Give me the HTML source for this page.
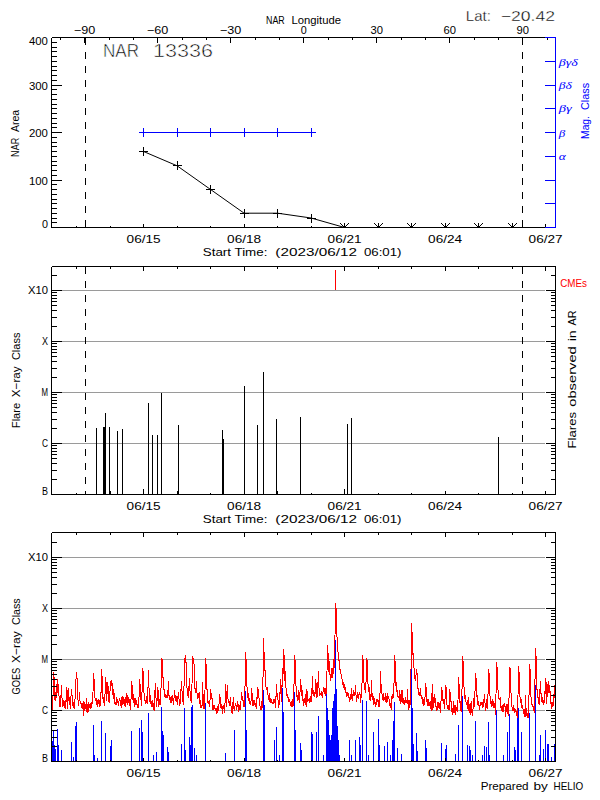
<!DOCTYPE html><html><head><meta charset="utf-8"><style>html,body{margin:0;padding:0;background:#fff;width:600px;height:800px;overflow:hidden}svg{display:block}</style></head><body><svg width="600" height="800" viewBox="0 0 600 800" font-family="Liberation Sans, sans-serif">
<rect width="600" height="800" fill="#fff"/>
<defs><clipPath id="c3"><rect x="51" y="532" width="505" height="230"/></clipPath><clipPath id="c1"><rect x="51" y="37" width="505" height="191"/></clipPath></defs>
<path d="M62,443.5H545" stroke="#9a9a9a" stroke-width="1" shape-rendering="crispEdges"/>
<path d="M62,392.5H545" stroke="#9a9a9a" stroke-width="1" shape-rendering="crispEdges"/>
<path d="M62,341.5H545" stroke="#9a9a9a" stroke-width="1" shape-rendering="crispEdges"/>
<path d="M62,290.5H545" stroke="#9a9a9a" stroke-width="1" shape-rendering="crispEdges"/>
<path d="M62,710.5H545" stroke="#9a9a9a" stroke-width="1" shape-rendering="crispEdges"/>
<path d="M62,659.5H545" stroke="#9a9a9a" stroke-width="1" shape-rendering="crispEdges"/>
<path d="M62,608.5H545" stroke="#9a9a9a" stroke-width="1" shape-rendering="crispEdges"/>
<path d="M62,557.5H545" stroke="#9a9a9a" stroke-width="1" shape-rendering="crispEdges"/>
<g clip-path="url(#c3)" fill="none" stroke-width="1" stroke-linejoin="miter" shape-rendering="crispEdges">
<path d="M52.5,762V741M53.5,762V731M54.5,762V745M55.5,762V749M57.5,762V729M58.5,762V745M61.5,762V750M71.5,762V742M73.5,762V757M75.5,762V726M76.5,762V722M93.5,762V725M94.5,762V755M97.5,762V758M101.5,762V721M105.5,762V733M110.5,762V746M111.5,762V740M131.5,762V731M139.5,762V728M141.5,762V720M142.5,762V732M148.5,762V713M153.5,762V755M156.5,762V752M161.5,762V707M162.5,762V731M163.5,762V735M167.5,762V747M168.5,762V752M181.5,762V744M184.5,762V708M185.5,762V750M189.5,762V737M190.5,762V745M191.5,762V707M192.5,762V705M194.5,762V748M196.5,762V755M205.5,762V703M225.5,762V753M234.5,762V730M245.5,762V691M246.5,762V730M263.5,762V690M264.5,762V705M274.5,762V740M276.5,762V727M279.5,762V755M282.5,762V688M283.5,762V712M294.5,762V692M295.5,762V730M300.5,762V743M301.5,762V750M311.5,762V732M312.5,762V734M316.5,762V732M318.5,762V716M323.5,762V755M326.5,762V689M327.5,762V708M328.5,762V720M329.5,762V735M330.5,762V740M331.5,762V735M332.5,762V708M333.5,762V701M334.5,762V694M335.5,762V640M336.5,762V689M337.5,762V726M338.5,762V740M339.5,762V755M349.5,762V740M351.5,762V755M355.5,762V740M359.5,762V737M360.5,762V745M362.5,762V700M366.5,762V701M368.5,762V755M373.5,762V732M378.5,762V719M379.5,762V745M384.5,762V746M387.5,762V742M390.5,762V755M392.5,762V740M393.5,762V721M394.5,762V702M397.5,762V748M401.5,762V754M411.5,762V663M412.5,762V708M413.5,762V744M416.5,762V733M417.5,762V751M425.5,762V740M426.5,762V748M441.5,762V743M445.5,762V749M446.5,762V745M455.5,762V754M458.5,762V725M462.5,762V696M467.5,762V745M469.5,762V746M470.5,762V750M472.5,762V755M475.5,762V721M482.5,762V755M484.5,762V746M486.5,762V747M488.5,762V722M489.5,762V755M496.5,762V710M503.5,762V755M507.5,762V732M509.5,762V714M514.5,762V747M515.5,762V750M517.5,762V708M518.5,762V708M521.5,762V732M529.5,762V713M535.5,762V685M539.5,762V755M540.5,762V735M543.5,762V749M545.5,762V730M547.5,762V744M548.5,762V744M551.5,762V757M554.5,762V744" stroke="#0000ff"/>
<polyline points="51.5,711.9 51.5,707.1 51.5,706.1 51.5,707.9 52.5,709.6 52.5,707.3 52.5,706.1 52.5,707.6 53.5,683.8 53.5,683.9 53.5,673.9 53.5,672.5 54.5,682.0 54.5,692.1 54.5,692.1 54.5,697.7 55.5,701.1 55.5,700.9 55.5,698.7 55.5,700.9 56.5,684.0 56.5,685.3 56.5,695.0 56.5,697.9 57.5,687.6 57.5,687.5 57.5,678.8 57.5,679.6 58.5,688.8 58.5,690.2 58.5,691.9 58.5,693.3 59.5,698.1 59.5,698.8 59.5,699.7 59.5,706.4 60.5,705.8 60.5,704.7 60.5,707.4 60.5,705.6 61.5,685.4 61.5,686.2 61.5,697.2 61.5,697.3 62.5,698.8 62.5,697.6 62.5,699.6 62.5,706.5 63.5,704.9 63.5,705.1 63.5,699.8 63.5,701.5 64.5,704.9 64.5,701.2 64.5,702.7 64.5,707.0 65.5,708.1 65.5,700.1 65.5,706.5 65.5,708.6 66.5,695.3 66.5,696.4 66.5,687.2 66.5,686.9 67.5,693.5 67.5,702.4 67.5,706.3 67.5,709.1 68.5,688.4 68.5,688.5 68.5,698.9 68.5,700.1 69.5,699.8 69.5,696.9 69.5,701.1 69.5,700.7 70.5,709.4 70.5,706.7 70.5,704.1 70.5,700.7 71.5,690.4 71.5,695.7 71.5,688.5 71.5,691.3 72.5,698.8 72.5,700.2 72.5,705.8 72.5,701.9 73.5,702.7 73.5,704.0 73.5,702.0 73.5,707.5 74.5,706.5 74.5,706.5 74.5,709.3 74.5,708.8 75.5,688.9 75.5,688.2 75.5,680.5 75.5,681.7 76.5,675.8 76.5,678.7 76.5,671.6 76.5,671.7 77.5,684.8 77.5,692.0 77.5,698.5 77.5,698.3 78.5,701.8 78.5,705.3 78.5,701.8 78.5,705.8 79.5,696.2 79.5,692.0 79.5,698.0 79.5,697.9 80.5,704.4 80.5,701.6 80.5,703.4 80.5,702.9 81.5,704.9 81.5,704.2 81.5,702.9 81.5,707.9 82.5,708.5 82.5,704.8 82.5,702.6 82.5,705.5 83.5,705.8 83.5,701.1 83.5,710.1 83.5,715.6 84.5,707.2 84.5,704.9 84.5,702.3 84.5,710.5 85.5,707.4 85.5,707.5 85.5,707.4 85.5,705.5 86.5,703.2 86.5,697.8 86.5,709.6 86.5,711.1 87.5,712.4 87.5,704.1 87.5,704.6 87.5,705.0 88.5,704.6 88.5,711.7 88.5,705.2 88.5,701.8 89.5,706.3 89.5,707.7 89.5,707.8 89.5,705.4 90.5,705.1 90.5,703.4 90.5,708.6 90.5,709.4 91.5,707.0 91.5,705.8 91.5,707.9 91.5,702.5 92.5,703.5 92.5,702.5 92.5,703.0 92.5,699.5 93.5,684.2 93.5,684.6 93.5,673.4 93.5,673.3 94.5,684.5 94.5,691.4 94.5,694.2 94.5,696.5 95.5,699.5 95.5,699.7 95.5,701.1 95.5,699.3 96.5,698.9 96.5,701.8 96.5,704.7 96.5,702.0 97.5,706.5 97.5,701.4 97.5,699.8 97.5,702.2 98.5,701.6 98.5,698.6 98.5,701.9 98.5,703.0 99.5,701.2 99.5,704.9 99.5,703.1 99.5,706.6 100.5,702.6 100.5,705.9 100.5,704.6 100.5,704.0 101.5,681.5 101.5,681.1 101.5,668.9 101.5,669.1 102.5,682.6 102.5,691.4 102.5,696.3 102.5,697.8 103.5,699.4 103.5,696.9 103.5,698.2 103.5,700.6 104.5,705.9 104.5,703.0 104.5,700.7 104.5,702.2 105.5,685.4 105.5,684.5 105.5,677.4 105.5,679.1 106.5,685.5 106.5,691.8 106.5,700.5 106.5,697.0 107.5,691.9 107.5,693.3 107.5,683.4 107.5,681.9 108.5,689.4 108.5,692.2 108.5,693.9 108.5,701.5 109.5,700.1 109.5,698.9 109.5,703.0 109.5,700.1 110.5,681.5 110.5,681.0 110.5,687.1 110.5,688.5 111.5,683.3 111.5,685.4 111.5,680.3 111.5,680.4 112.5,685.7 112.5,691.2 112.5,692.9 112.5,692.9 113.5,697.1 113.5,698.8 113.5,688.5 113.5,691.1 114.5,695.4 114.5,698.7 114.5,700.9 114.5,703.1 115.5,702.3 115.5,701.5 115.5,704.0 115.5,704.8 116.5,702.6 116.5,697.4 116.5,700.0 116.5,704.8 117.5,701.9 117.5,699.4 117.5,700.4 117.5,701.0 118.5,703.5 118.5,702.6 118.5,706.3 118.5,703.0 119.5,699.0 119.5,700.7 119.5,698.2 119.5,699.1 120.5,701.3 120.5,706.3 120.5,701.2 120.5,701.6 121.5,708.3 121.5,700.1 121.5,698.6 121.5,697.4 122.5,696.7 122.5,701.5 122.5,702.3 122.5,705.2 123.5,700.9 123.5,703.4 123.5,697.3 123.5,703.6 124.5,701.2 124.5,698.5 124.5,701.2 124.5,703.7 125.5,707.1 125.5,701.2 125.5,699.7 125.5,697.3 126.5,702.8 126.5,693.0 126.5,697.7 126.5,699.2 127.5,700.8 127.5,704.3 127.5,704.8 127.5,694.6 128.5,699.7 128.5,701.4 128.5,702.5 128.5,702.2 129.5,699.6 129.5,704.8 129.5,703.4 129.5,705.5 130.5,704.9 130.5,706.4 130.5,709.8 130.5,707.6 131.5,691.4 131.5,687.6 131.5,680.8 131.5,680.7 132.5,689.2 132.5,695.8 132.5,695.5 132.5,697.4 133.5,703.1 133.5,699.6 133.5,702.3 133.5,694.3 134.5,702.5 134.5,704.5 134.5,703.9 134.5,707.2 135.5,703.3 135.5,699.8 135.5,697.8 135.5,700.7 136.5,703.6 136.5,700.3 136.5,699.5 136.5,703.6 137.5,706.1 137.5,707.9 137.5,705.5 137.5,705.5 138.5,703.1 138.5,701.4 138.5,707.5 138.5,704.8 139.5,689.3 139.5,690.3 139.5,680.8 139.5,679.4 140.5,687.5 140.5,693.2 140.5,697.6 140.5,698.7 141.5,701.7 141.5,700.8 141.5,705.1 141.5,705.7 142.5,678.8 142.5,677.7 142.5,667.6 142.5,667.6 143.5,674.9 143.5,681.9 143.5,686.6 143.5,690.1 144.5,695.5 144.5,699.1 144.5,698.0 144.5,700.6 145.5,700.0 145.5,699.8 145.5,702.3 145.5,704.0 146.5,696.7 146.5,695.8 146.5,703.4 146.5,700.4 147.5,701.8 147.5,704.4 147.5,703.1 147.5,704.0 148.5,670.0 148.5,669.8 148.5,678.8 148.5,685.4 149.5,690.6 149.5,694.5 149.5,700.8 149.5,701.3 150.5,699.7 150.5,695.1 150.5,698.7 150.5,702.1 151.5,704.8 151.5,706.9 151.5,703.6 151.5,701.6 152.5,703.4 152.5,703.2 152.5,700.4 152.5,706.3 153.5,705.6 153.5,705.7 153.5,703.0 153.5,708.6 154.5,711.4 154.5,689.6 154.5,695.2 154.5,697.7 155.5,683.3 155.5,684.1 155.5,690.5 155.5,696.0 156.5,699.8 156.5,705.7 156.5,702.5 156.5,707.3 157.5,694.9 157.5,692.4 157.5,688.5 157.5,686.9 158.5,693.4 158.5,696.9 158.5,702.6 158.5,706.7 159.5,703.6 159.5,698.7 159.5,700.4 159.5,703.1 160.5,704.1 160.5,700.4 160.5,699.3 160.5,704.9 161.5,672.1 161.5,670.6 161.5,671.5 161.5,658.6 162.5,659.4 162.5,665.8 162.5,671.1 162.5,676.4 163.5,678.7 163.5,682.6 163.5,684.4 163.5,689.1 164.5,689.2 164.5,692.4 164.5,693.3 164.5,696.0 165.5,695.7 165.5,694.3 165.5,696.0 165.5,696.9 166.5,695.9 166.5,697.4 166.5,696.4 166.5,697.2 167.5,695.8 167.5,698.4 167.5,698.1 167.5,698.0 168.5,681.5 168.5,682.5 168.5,686.0 168.5,694.4 169.5,696.5 169.5,696.0 169.5,698.8 169.5,699.6 170.5,697.0 170.5,702.5 170.5,699.8 170.5,700.3 171.5,696.1 171.5,703.1 171.5,700.1 171.5,700.8 172.5,700.4 172.5,699.4 172.5,695.2 172.5,697.9 173.5,698.6 173.5,704.2 173.5,700.7 173.5,704.9 174.5,691.0 174.5,689.7 174.5,690.9 174.5,693.1 175.5,696.4 175.5,696.5 175.5,699.5 175.5,700.1 176.5,700.9 176.5,698.9 176.5,696.4 176.5,700.9 177.5,703.8 177.5,695.9 177.5,705.1 177.5,703.3 178.5,691.8 178.5,691.8 178.5,698.2 178.5,698.3 179.5,699.7 179.5,703.3 179.5,703.3 179.5,705.8 180.5,702.3 180.5,696.7 180.5,695.9 180.5,697.3 181.5,680.8 181.5,681.3 181.5,689.4 181.5,687.9 182.5,693.5 182.5,696.9 182.5,701.6 182.5,700.8 183.5,700.6 183.5,702.9 183.5,704.9 183.5,703.1 184.5,670.2 184.5,670.8 184.5,657.6 184.5,657.9 185.5,658.5 185.5,662.6 185.5,655.2 185.5,656.0 186.5,667.8 186.5,676.7 186.5,680.1 186.5,687.4 187.5,689.2 187.5,693.5 187.5,694.9 187.5,693.5 188.5,698.4 188.5,694.8 188.5,692.7 188.5,694.0 189.5,678.4 189.5,679.4 189.5,686.0 189.5,686.8 190.5,694.1 190.5,696.2 190.5,696.5 190.5,699.5 191.5,702.8 191.5,700.8 191.5,693.3 191.5,699.3 192.5,668.9 192.5,669.3 192.5,656.7 192.5,656.5 193.5,659.4 193.5,663.6 193.5,658.0 193.5,659.2 194.5,669.4 194.5,676.1 194.5,682.3 194.5,686.5 195.5,691.9 195.5,691.8 195.5,693.2 195.5,693.4 196.5,682.3 196.5,681.0 196.5,686.9 196.5,692.2 197.5,694.0 197.5,695.1 197.5,698.6 197.5,696.9 198.5,698.0 198.5,698.2 198.5,697.9 198.5,694.2 199.5,692.8 199.5,697.6 199.5,698.6 199.5,701.0 200.5,707.4 200.5,700.1 200.5,701.5 200.5,707.7 201.5,707.6 201.5,705.3 201.5,706.3 201.5,706.9 202.5,705.4 202.5,703.0 202.5,682.2 202.5,691.1 203.5,696.7 203.5,704.6 203.5,708.7 203.5,706.9 204.5,708.0 204.5,706.7 204.5,709.0 204.5,709.4 205.5,671.2 205.5,672.2 205.5,658.6 205.5,658.0 206.5,670.0 206.5,680.3 206.5,686.4 206.5,688.4 207.5,690.6 207.5,696.8 207.5,698.8 207.5,702.6 208.5,702.2 208.5,704.0 208.5,704.2 208.5,702.2 209.5,703.2 209.5,703.9 209.5,707.4 209.5,703.0 210.5,696.6 210.5,699.0 210.5,691.4 210.5,689.5 211.5,697.9 211.5,693.0 211.5,699.3 211.5,699.0 212.5,698.2 212.5,702.3 212.5,706.1 212.5,709.1 213.5,709.1 213.5,704.8 213.5,704.7 213.5,705.7 214.5,707.7 214.5,707.3 214.5,705.4 214.5,708.4 215.5,708.9 215.5,707.8 215.5,710.5 215.5,709.9 216.5,708.8 216.5,711.2 216.5,712.2 216.5,713.3 217.5,712.4 217.5,709.5 217.5,706.1 217.5,707.6 218.5,708.7 218.5,710.6 218.5,708.4 218.5,709.4 219.5,698.7 219.5,700.0 219.5,693.5 219.5,694.0 220.5,700.9 220.5,703.7 220.5,707.7 220.5,705.4 221.5,707.0 221.5,709.4 221.5,708.0 221.5,705.3 222.5,706.9 222.5,714.1 222.5,706.9 222.5,706.7 223.5,705.8 223.5,709.4 223.5,707.7 223.5,706.0 224.5,706.1 224.5,712.5 224.5,711.6 224.5,711.6 225.5,695.3 225.5,694.6 225.5,684.2 225.5,684.9 226.5,696.7 226.5,704.0 226.5,703.4 226.5,707.1 227.5,686.7 227.5,684.9 227.5,691.3 227.5,694.9 228.5,702.9 228.5,699.8 228.5,703.2 228.5,701.9 229.5,704.3 229.5,702.4 229.5,704.7 229.5,705.6 230.5,696.9 230.5,702.9 230.5,704.4 230.5,703.3 231.5,708.4 231.5,707.1 231.5,710.0 231.5,711.6 232.5,713.3 232.5,704.3 232.5,704.1 232.5,706.8 233.5,697.0 233.5,708.4 233.5,707.7 233.5,709.3 234.5,706.1 234.5,710.9 234.5,708.3 234.5,707.9 235.5,703.5 235.5,704.5 235.5,706.3 235.5,705.7 236.5,705.5 236.5,705.1 236.5,706.3 236.5,709.9 237.5,704.6 237.5,701.1 237.5,700.6 237.5,706.9 238.5,704.3 238.5,709.1 238.5,707.2 238.5,711.9 239.5,704.8 239.5,709.9 239.5,707.3 239.5,709.1 240.5,704.9 240.5,708.6 240.5,707.4 240.5,710.1 241.5,691.9 241.5,693.9 241.5,698.2 241.5,699.4 242.5,700.4 242.5,700.8 242.5,696.2 242.5,699.5 243.5,700.5 243.5,700.8 243.5,707.2 243.5,706.2 244.5,705.9 244.5,702.2 244.5,702.5 244.5,707.3 245.5,666.1 245.5,665.9 245.5,651.9 245.5,652.1 246.5,664.9 246.5,673.5 246.5,679.7 246.5,684.9 247.5,689.5 247.5,692.5 247.5,696.1 247.5,697.9 248.5,693.0 248.5,696.5 248.5,695.4 248.5,698.4 249.5,704.2 249.5,701.8 249.5,698.0 249.5,699.9 250.5,703.3 250.5,704.8 250.5,702.3 250.5,705.2 251.5,696.6 251.5,695.0 251.5,687.9 251.5,688.9 252.5,696.7 252.5,698.7 252.5,705.0 252.5,705.3 253.5,705.5 253.5,699.5 253.5,705.2 253.5,702.8 254.5,704.4 254.5,701.3 254.5,699.5 254.5,703.7 255.5,703.9 255.5,707.3 255.5,707.0 255.5,703.7 256.5,708.4 256.5,708.6 256.5,706.4 256.5,706.7 257.5,687.3 257.5,691.8 257.5,696.1 257.5,698.8 258.5,689.4 258.5,693.7 258.5,693.2 258.5,693.4 259.5,702.0 259.5,705.3 259.5,698.2 259.5,705.7 260.5,706.9 260.5,707.4 260.5,708.4 260.5,709.0 261.5,709.8 261.5,709.1 261.5,705.3 261.5,700.7 262.5,708.3 262.5,704.7 262.5,703.3 262.5,703.1 263.5,651.7 263.5,652.0 263.5,637.7 263.5,648.1 264.5,656.1 264.5,662.6 264.5,663.1 264.5,666.7 265.5,674.1 265.5,678.4 265.5,683.3 265.5,685.0 266.5,688.9 266.5,688.6 266.5,689.6 266.5,688.1 267.5,690.9 267.5,686.6 267.5,689.0 267.5,690.6 268.5,698.4 268.5,699.8 268.5,699.0 268.5,698.6 269.5,701.3 269.5,698.1 269.5,692.5 269.5,700.4 270.5,703.3 270.5,701.5 270.5,698.3 270.5,698.1 271.5,700.2 271.5,699.9 271.5,701.3 271.5,702.1 272.5,703.1 272.5,704.4 272.5,702.3 272.5,703.2 273.5,702.2 273.5,704.2 273.5,699.1 273.5,701.5 274.5,702.7 274.5,698.6 274.5,701.6 274.5,702.2 275.5,702.7 275.5,708.3 275.5,702.6 275.5,707.4 276.5,683.8 276.5,683.6 276.5,690.5 276.5,696.7 277.5,693.5 277.5,697.3 277.5,695.2 277.5,699.6 278.5,700.3 278.5,701.3 278.5,704.9 278.5,707.5 279.5,702.4 279.5,701.7 279.5,702.9 279.5,704.9 280.5,679.0 280.5,680.3 280.5,685.7 280.5,690.6 281.5,696.6 281.5,699.0 281.5,700.1 281.5,701.6 282.5,668.1 282.5,668.7 282.5,680.3 282.5,687.3 283.5,661.2 283.5,661.5 283.5,649.0 283.5,649.7 284.5,659.2 284.5,669.1 284.5,675.9 284.5,680.5 285.5,671.2 285.5,672.4 285.5,679.2 285.5,685.2 286.5,690.8 286.5,693.6 286.5,692.1 286.5,695.2 287.5,695.7 287.5,693.8 287.5,694.1 287.5,697.5 288.5,699.0 288.5,701.5 288.5,696.8 288.5,701.4 289.5,700.8 289.5,700.7 289.5,701.3 289.5,698.8 290.5,705.0 290.5,705.8 290.5,703.2 290.5,703.5 291.5,700.8 291.5,706.9 291.5,702.3 291.5,706.0 292.5,705.5 292.5,699.1 292.5,700.9 292.5,707.3 293.5,703.2 293.5,705.6 293.5,701.8 293.5,701.9 294.5,667.8 294.5,668.3 294.5,655.0 294.5,655.6 295.5,664.3 295.5,671.0 295.5,678.3 295.5,684.3 296.5,687.1 296.5,688.7 296.5,691.4 296.5,696.1 297.5,696.4 297.5,696.1 297.5,695.4 297.5,700.1 298.5,698.7 298.5,695.9 298.5,694.2 298.5,690.1 299.5,699.2 299.5,700.9 299.5,702.5 299.5,696.8 300.5,687.9 300.5,682.9 300.5,679.1 300.5,681.0 301.5,688.2 301.5,687.3 301.5,692.7 301.5,695.6 302.5,690.1 302.5,693.9 302.5,698.9 302.5,699.3 303.5,703.5 303.5,705.6 303.5,701.1 303.5,698.6 304.5,702.7 304.5,699.5 304.5,700.6 304.5,701.6 305.5,694.4 305.5,699.2 305.5,704.5 305.5,702.7 306.5,702.8 306.5,697.5 306.5,707.0 306.5,689.2 307.5,693.8 307.5,701.6 307.5,699.2 307.5,701.0 308.5,699.6 308.5,700.6 308.5,701.0 308.5,700.5 309.5,697.8 309.5,699.3 309.5,698.6 309.5,703.1 310.5,695.9 310.5,701.8 310.5,697.9 310.5,698.6 311.5,701.6 311.5,700.5 311.5,698.7 311.5,700.9 312.5,676.0 312.5,677.4 312.5,683.7 312.5,691.1 313.5,696.2 313.5,695.0 313.5,692.9 313.5,690.1 314.5,693.3 314.5,696.6 314.5,695.7 314.5,697.0 315.5,690.3 315.5,685.9 315.5,678.6 315.5,682.0 316.5,683.7 316.5,687.9 316.5,692.5 316.5,697.4 317.5,695.7 317.5,696.3 317.5,693.9 317.5,692.4 318.5,671.2 318.5,671.8 318.5,682.5 318.5,686.0 319.5,690.7 319.5,694.3 319.5,695.8 319.5,694.0 320.5,693.2 320.5,693.2 320.5,694.5 320.5,694.4 321.5,693.6 321.5,692.7 321.5,691.3 321.5,695.1 322.5,696.6 322.5,696.3 322.5,694.9 322.5,697.0 323.5,687.1 323.5,691.9 323.5,686.9 323.5,688.2 324.5,692.0 324.5,692.3 324.5,687.8 324.5,693.5 325.5,695.1 325.5,695.6 325.5,696.2 325.5,688.4 326.5,694.4 326.5,691.4 326.5,689.4 326.5,685.9 327.5,655.9 327.5,656.5 327.5,644.6 327.5,648.8 328.5,656.9 328.5,663.1 328.5,669.0 328.5,672.1 329.5,662.1 329.5,661.0 329.5,668.0 329.5,672.3 330.5,677.5 330.5,678.5 330.5,678.6 330.5,680.6 331.5,668.3 331.5,668.9 331.5,671.9 331.5,678.3 332.5,675.7 332.5,672.4 332.5,677.2 332.5,677.9 333.5,659.5 333.5,659.3 333.5,663.7 333.5,673.6 334.5,662.7 334.5,664.3 334.5,655.9 334.5,654.2 335.5,616.7 335.5,617.4 335.5,603.6 335.5,603.5 336.5,612.8 336.5,621.9 336.5,627.1 336.5,634.4 337.5,639.0 337.5,644.2 337.5,646.6 337.5,649.2 338.5,653.9 338.5,655.1 338.5,657.8 338.5,659.3 339.5,661.7 339.5,663.6 339.5,665.6 339.5,668.9 340.5,669.7 340.5,670.6 340.5,670.9 340.5,672.4 341.5,675.7 341.5,676.8 341.5,677.5 341.5,677.1 342.5,680.5 342.5,684.1 342.5,684.5 342.5,684.9 343.5,682.4 343.5,683.5 343.5,688.1 343.5,686.1 344.5,683.9 344.5,685.9 344.5,690.4 344.5,686.6 345.5,687.5 345.5,692.0 345.5,686.6 345.5,689.7 346.5,696.5 346.5,693.6 346.5,693.6 346.5,692.1 347.5,692.1 347.5,695.8 347.5,693.7 347.5,692.2 348.5,694.3 348.5,695.1 348.5,698.4 348.5,697.0 349.5,697.7 349.5,696.7 349.5,697.5 349.5,701.8 350.5,696.6 350.5,698.4 350.5,697.9 350.5,699.9 351.5,688.5 351.5,692.2 351.5,689.3 351.5,698.1 352.5,700.3 352.5,697.9 352.5,700.8 352.5,699.1 353.5,690.1 353.5,693.7 353.5,695.7 353.5,694.9 354.5,694.7 354.5,692.2 354.5,695.6 354.5,692.1 355.5,691.8 355.5,684.9 355.5,689.7 355.5,692.4 356.5,697.3 356.5,698.9 356.5,702.1 356.5,699.6 357.5,693.4 357.5,692.4 357.5,696.0 357.5,698.0 358.5,695.3 358.5,694.5 358.5,699.1 358.5,694.2 359.5,694.2 359.5,694.4 359.5,694.0 359.5,693.5 360.5,695.3 360.5,698.4 360.5,702.7 360.5,696.5 361.5,694.7 361.5,692.1 361.5,693.3 361.5,697.7 362.5,668.5 362.5,667.2 362.5,655.4 362.5,655.2 363.5,662.6 363.5,671.0 363.5,677.1 363.5,680.4 364.5,684.8 364.5,685.2 364.5,684.2 364.5,688.6 365.5,686.8 365.5,692.2 365.5,692.0 365.5,693.3 366.5,671.0 366.5,670.2 366.5,669.3 366.5,658.3 367.5,661.3 367.5,671.0 367.5,679.6 367.5,682.7 368.5,684.8 368.5,687.3 368.5,690.2 368.5,691.5 369.5,688.6 369.5,687.0 369.5,690.8 369.5,698.9 370.5,699.6 370.5,700.5 370.5,693.9 370.5,699.3 371.5,694.2 371.5,679.7 371.5,689.5 371.5,690.8 372.5,695.9 372.5,694.2 372.5,693.7 372.5,699.0 373.5,699.2 373.5,695.9 373.5,704.8 373.5,698.7 374.5,700.1 374.5,697.6 374.5,700.2 374.5,701.5 375.5,707.0 375.5,707.0 375.5,705.2 375.5,702.5 376.5,705.1 376.5,701.6 376.5,700.3 376.5,699.6 377.5,698.9 377.5,698.6 377.5,702.4 377.5,700.4 378.5,701.0 378.5,700.0 378.5,706.6 378.5,705.1 379.5,705.9 379.5,705.8 379.5,704.4 379.5,704.4 380.5,681.3 380.5,670.8 380.5,673.0 380.5,680.7 381.5,687.2 381.5,690.1 381.5,692.6 381.5,692.9 382.5,694.5 382.5,696.8 382.5,697.7 382.5,698.2 383.5,701.4 383.5,695.5 383.5,692.9 383.5,693.6 384.5,699.5 384.5,699.5 384.5,697.4 384.5,699.3 385.5,699.7 385.5,701.8 385.5,695.6 385.5,693.3 386.5,699.1 386.5,699.9 386.5,702.9 386.5,699.6 387.5,700.6 387.5,702.3 387.5,698.5 387.5,692.8 388.5,698.3 388.5,696.2 388.5,699.2 388.5,697.5 389.5,701.2 389.5,704.5 389.5,699.1 389.5,704.9 390.5,707.5 390.5,704.1 390.5,702.6 390.5,706.9 391.5,708.6 391.5,703.2 391.5,703.8 391.5,697.3 392.5,695.6 392.5,694.7 392.5,693.8 392.5,698.5 393.5,689.6 393.5,694.6 393.5,693.7 393.5,698.0 394.5,668.2 394.5,667.3 394.5,654.5 394.5,655.2 395.5,665.8 395.5,673.2 395.5,681.5 395.5,684.6 396.5,688.1 396.5,682.4 396.5,687.9 396.5,690.5 397.5,693.2 397.5,690.2 397.5,691.5 397.5,696.1 398.5,697.5 398.5,696.4 398.5,697.3 398.5,696.1 399.5,700.2 399.5,700.5 399.5,689.8 399.5,692.5 400.5,699.0 400.5,694.4 400.5,693.9 400.5,703.6 401.5,700.3 401.5,697.1 401.5,698.6 401.5,690.3 402.5,690.9 402.5,694.1 402.5,702.7 402.5,700.5 403.5,699.6 403.5,703.5 403.5,698.0 403.5,699.7 404.5,704.8 404.5,702.6 404.5,703.6 404.5,700.0 405.5,702.9 405.5,703.1 405.5,697.4 405.5,701.1 406.5,702.4 406.5,701.7 406.5,703.4 406.5,699.6 407.5,704.2 407.5,703.6 407.5,688.6 407.5,698.1 408.5,701.4 408.5,700.1 408.5,706.9 408.5,709.7 409.5,706.0 409.5,699.6 409.5,699.7 409.5,702.2 410.5,704.9 410.5,694.8 410.5,697.3 410.5,703.2 411.5,637.5 411.5,637.3 411.5,623.0 411.5,632.8 412.5,632.6 412.5,637.9 412.5,647.9 412.5,654.7 413.5,654.0 413.5,656.7 413.5,662.6 413.5,666.9 414.5,669.8 414.5,671.8 414.5,675.6 414.5,678.1 415.5,678.1 415.5,680.7 415.5,681.3 415.5,677.1 416.5,672.6 416.5,675.4 416.5,669.2 416.5,669.8 417.5,676.6 417.5,679.1 417.5,685.5 417.5,688.8 418.5,689.5 418.5,687.9 418.5,692.3 418.5,693.9 419.5,696.2 419.5,695.8 419.5,693.6 419.5,696.1 420.5,688.3 420.5,692.6 420.5,694.2 420.5,694.4 421.5,697.5 421.5,699.2 421.5,694.7 421.5,695.7 422.5,697.8 422.5,703.6 422.5,702.9 422.5,704.1 423.5,699.3 423.5,702.1 423.5,705.6 423.5,701.1 424.5,704.7 424.5,703.7 424.5,702.4 424.5,703.3 425.5,691.0 425.5,693.9 425.5,683.5 425.5,683.3 426.5,690.1 426.5,694.2 426.5,695.6 426.5,701.1 427.5,699.6 427.5,702.7 427.5,704.9 427.5,706.0 428.5,699.2 428.5,701.3 428.5,702.5 428.5,706.4 429.5,701.9 429.5,703.7 429.5,705.9 429.5,702.4 430.5,701.7 430.5,705.7 430.5,704.4 430.5,706.8 431.5,710.6 431.5,702.6 431.5,704.4 431.5,703.5 432.5,683.8 432.5,701.5 432.5,705.8 432.5,709.4 433.5,707.3 433.5,705.4 433.5,704.1 433.5,699.5 434.5,694.2 434.5,697.8 434.5,700.9 434.5,702.9 435.5,698.5 435.5,702.8 435.5,705.1 435.5,706.9 436.5,707.0 436.5,710.8 436.5,709.7 436.5,707.4 437.5,709.1 437.5,707.1 437.5,704.2 437.5,701.9 438.5,705.9 438.5,701.7 438.5,705.0 438.5,707.8 439.5,708.8 439.5,703.4 439.5,705.0 439.5,705.6 440.5,705.5 440.5,713.0 440.5,709.4 440.5,707.4 441.5,695.4 441.5,697.0 441.5,686.6 441.5,687.0 442.5,692.8 442.5,692.8 442.5,698.4 442.5,699.9 443.5,701.1 443.5,698.5 443.5,704.0 443.5,700.5 444.5,707.5 444.5,709.4 444.5,708.7 444.5,704.8 445.5,693.5 445.5,691.2 445.5,692.4 445.5,685.0 446.5,688.5 446.5,695.0 446.5,699.0 446.5,704.1 447.5,706.4 447.5,708.8 447.5,708.4 447.5,705.1 448.5,705.2 448.5,706.0 448.5,705.8 448.5,709.3 449.5,709.5 449.5,703.2 449.5,706.9 449.5,688.9 450.5,695.2 450.5,698.9 450.5,700.3 450.5,699.9 451.5,703.1 451.5,704.2 451.5,706.9 451.5,710.1 452.5,714.5 452.5,707.6 452.5,708.0 452.5,715.2 453.5,710.8 453.5,711.5 453.5,706.0 453.5,701.4 454.5,707.8 454.5,712.9 454.5,712.9 454.5,708.7 455.5,712.3 455.5,715.0 455.5,711.9 455.5,705.1 456.5,711.1 456.5,707.2 456.5,708.7 456.5,708.5 457.5,705.6 457.5,711.4 457.5,711.0 457.5,711.6 458.5,688.2 458.5,688.4 458.5,677.7 458.5,677.3 459.5,690.2 459.5,697.6 459.5,703.1 459.5,701.7 460.5,702.6 460.5,700.9 460.5,708.9 460.5,710.1 461.5,709.1 461.5,705.8 461.5,708.9 461.5,711.5 462.5,668.5 462.5,669.1 462.5,655.5 462.5,655.9 463.5,665.2 463.5,671.1 463.5,678.9 463.5,685.0 464.5,689.3 464.5,691.9 464.5,694.5 464.5,697.8 465.5,696.1 465.5,700.4 465.5,698.3 465.5,699.0 466.5,704.1 466.5,701.5 466.5,702.3 466.5,705.4 467.5,700.4 467.5,700.6 467.5,709.1 467.5,704.8 468.5,707.6 468.5,711.2 468.5,697.1 468.5,702.8 469.5,704.6 469.5,705.3 469.5,707.2 469.5,710.2 470.5,715.0 470.5,711.4 470.5,706.5 470.5,704.6 471.5,700.9 471.5,704.3 471.5,706.2 471.5,709.9 472.5,716.4 472.5,713.8 472.5,713.1 472.5,713.2 473.5,705.2 473.5,697.8 473.5,704.3 473.5,704.1 474.5,705.8 474.5,705.0 474.5,698.1 474.5,699.3 475.5,683.6 475.5,684.8 475.5,673.0 475.5,672.6 476.5,683.7 476.5,688.7 476.5,694.5 476.5,696.1 477.5,695.8 477.5,700.1 477.5,703.3 477.5,703.7 478.5,702.0 478.5,705.8 478.5,704.3 478.5,705.6 479.5,706.4 479.5,708.1 479.5,710.1 479.5,705.3 480.5,704.1 480.5,705.6 480.5,705.6 480.5,702.3 481.5,703.5 481.5,703.2 481.5,704.5 481.5,702.6 482.5,704.9 482.5,707.7 482.5,703.6 482.5,702.4 483.5,706.5 483.5,704.5 483.5,703.8 483.5,703.0 484.5,694.3 484.5,700.0 484.5,702.5 484.5,701.8 485.5,703.8 485.5,711.2 485.5,707.6 485.5,705.8 486.5,707.9 486.5,705.4 486.5,703.5 486.5,700.7 487.5,696.6 487.5,701.7 487.5,706.6 487.5,709.1 488.5,680.3 488.5,681.5 488.5,670.0 488.5,669.5 489.5,677.1 489.5,683.3 489.5,688.0 489.5,694.9 490.5,696.4 490.5,696.3 490.5,700.7 490.5,703.5 491.5,700.6 491.5,701.8 491.5,701.0 491.5,706.4 492.5,704.4 492.5,706.0 492.5,702.7 492.5,699.1 493.5,703.8 493.5,702.2 493.5,706.6 493.5,706.7 494.5,705.2 494.5,707.6 494.5,703.3 494.5,704.6 495.5,709.7 495.5,711.8 495.5,710.7 495.5,714.6 496.5,674.4 496.5,674.8 496.5,662.1 496.5,662.0 497.5,671.2 497.5,677.8 497.5,683.0 497.5,687.9 498.5,691.6 498.5,693.6 498.5,696.1 498.5,698.7 499.5,698.1 499.5,699.9 499.5,700.4 499.5,699.0 500.5,697.8 500.5,702.1 500.5,701.5 500.5,707.4 501.5,708.3 501.5,706.3 501.5,708.3 501.5,710.2 502.5,710.6 502.5,707.9 502.5,711.8 502.5,706.5 503.5,703.6 503.5,712.0 503.5,709.2 503.5,707.5 504.5,702.8 504.5,704.1 504.5,707.4 504.5,707.1 505.5,706.7 505.5,707.8 505.5,716.9 505.5,707.7 506.5,704.9 506.5,711.9 506.5,704.2 506.5,710.2 507.5,711.0 507.5,713.8 507.5,703.7 507.5,705.7 508.5,710.2 508.5,709.5 508.5,716.4 508.5,716.4 509.5,680.7 509.5,679.9 509.5,667.1 509.5,666.7 510.5,669.0 510.5,677.5 510.5,684.9 510.5,689.5 511.5,695.9 511.5,699.2 511.5,703.0 511.5,706.0 512.5,708.2 512.5,707.3 512.5,710.6 512.5,710.1 513.5,710.7 513.5,709.6 513.5,707.9 513.5,704.7 514.5,710.4 514.5,711.7 514.5,710.5 514.5,713.3 515.5,709.9 515.5,709.7 515.5,711.8 515.5,709.2 516.5,713.7 516.5,714.1 516.5,714.9 516.5,714.6 517.5,717.8 517.5,715.4 517.5,711.5 517.5,711.4 518.5,678.1 518.5,678.3 518.5,665.5 518.5,666.2 519.5,678.1 519.5,688.5 519.5,691.5 519.5,693.9 520.5,699.6 520.5,703.3 520.5,696.5 520.5,701.5 521.5,701.0 521.5,699.2 521.5,705.5 521.5,708.2 522.5,705.8 522.5,704.8 522.5,706.4 522.5,708.4 523.5,710.3 523.5,710.6 523.5,712.8 523.5,713.3 524.5,713.9 524.5,708.7 524.5,716.5 524.5,711.3 525.5,716.5 525.5,695.4 525.5,703.9 525.5,708.2 526.5,708.5 526.5,711.5 526.5,712.1 526.5,715.2 527.5,713.5 527.5,717.9 527.5,714.4 527.5,715.2 528.5,717.7 528.5,711.6 528.5,708.4 528.5,713.5 529.5,677.1 529.5,677.5 529.5,664.5 529.5,664.0 530.5,674.5 530.5,683.5 530.5,688.5 530.5,695.0 531.5,698.3 531.5,699.5 531.5,705.0 531.5,703.5 532.5,705.5 532.5,706.3 532.5,705.5 532.5,706.6 533.5,707.0 533.5,709.3 533.5,710.9 533.5,710.6 534.5,711.0 534.5,712.7 534.5,708.0 534.5,698.6 535.5,661.5 535.5,661.8 535.5,647.6 535.5,647.9 536.5,664.3 536.5,676.7 536.5,684.2 536.5,688.4 537.5,690.5 537.5,696.2 537.5,696.1 537.5,697.5 538.5,697.6 538.5,702.3 538.5,703.5 538.5,700.6 539.5,698.9 539.5,696.8 539.5,704.5 539.5,698.1 540.5,680.6 540.5,681.2 540.5,689.0 540.5,692.7 541.5,694.1 541.5,699.7 541.5,698.9 541.5,700.0 542.5,703.0 542.5,700.1 542.5,697.1 542.5,699.8 543.5,700.8 543.5,701.3 543.5,704.2 543.5,704.6 544.5,700.6 544.5,702.0 544.5,702.2 544.5,703.3 545.5,678.7 545.5,678.1 545.5,688.6 545.5,690.1 546.5,697.6 546.5,699.6 546.5,703.5 546.5,681.9 547.5,685.8 547.5,696.3 547.5,696.6 547.5,688.7 548.5,686.7 548.5,692.5 548.5,680.9 548.5,684.0 549.5,693.0 549.5,684.7 549.5,690.4 549.5,690.7 550.5,691.8 550.5,697.2 550.5,700.3 550.5,703.2 551.5,702.3 551.5,707.2 551.5,708.5 551.5,705.4 552.5,706.3 552.5,701.5 552.5,703.7 552.5,703.1 553.5,704.9 553.5,701.9 553.5,699.7 553.5,702.7 554.5,686.4 554.5,685.3 554.5,693.6 554.5,695.9 555.5,699.3 555.5,700.7 555.5,699.6" stroke="#ff0000"/>
</g>
<path d="M96.5,494V428M103.5,494V427M104.5,494V427M105.5,494V413M109.5,494V427M110.5,494V491M117.5,494V431M122.5,494V429M143.5,494V489M148.5,494V403M152.5,494V435M157.5,494V435M161.5,494V393M177.5,494V491M178.5,494V425M222.5,494V430M223.5,494V439M244.5,494V386M257.5,494V425M263.5,494V372M276.5,494V419M277.5,494V491M300.5,494V417M344.5,494V489M347.5,494V424M351.5,494V418M498.5,494V437" stroke="#000" stroke-width="1" shape-rendering="crispEdges"/>
<path d="M335.5,290V270" stroke="#ff0000" stroke-width="1" shape-rendering="crispEdges"/>
<path d="M85.5,37.5V227.5" stroke="#000" stroke-dasharray="7,7" shape-rendering="crispEdges"/>
<path d="M85.5,266.5V494.5" stroke="#000" stroke-dasharray="7,7" shape-rendering="crispEdges"/>
<path d="M522.5,37.5V227.5" stroke="#000" stroke-dasharray="7,7" shape-rendering="crispEdges"/>
<path d="M522.5,266.5V494.5" stroke="#000" stroke-dasharray="7,7" shape-rendering="crispEdges"/>
<polyline points="143.6,151.5 177.1,165.8 210.6,189.5 244.1,213.2 277.6,213.2 311.1,218.0 344.6,227.5 378.1,227.5 411.6,227.5 445.1,227.5 478.6,227.5 512.1,227.5" fill="none" stroke="#000" stroke-width="1"/>
<path d="M139.0,151.5h9M143.5,147.0v9M173.0,165.5h9M177.5,161.0v9M206.0,189.5h9M210.5,185.0v9M240.0,213.5h9M244.5,209.0v9M273.0,213.5h9M277.5,209.0v9M307.0,218.5h9M311.5,214.0v9M340.5,223.5L344.5,227.5L348.5,223.5M344.5,223.0V227.5M374.5,223.5L378.5,227.5L382.5,223.5M378.5,223.0V227.5M407.5,223.5L411.5,227.5L415.5,223.5M411.5,223.0V227.5M441.5,223.5L445.5,227.5L449.5,223.5M445.5,223.0V227.5M474.5,223.5L478.5,227.5L482.5,223.5M478.5,223.0V227.5M508.5,223.5L512.5,227.5L516.5,223.5M512.5,223.0V227.5" fill="none" stroke="#000" stroke-width="1" shape-rendering="crispEdges"/>
<path d="M139.0,132.5H316.0M143.5,128v9M177.5,128v9M210.5,128v9M244.5,128v9M277.5,128v9M311.5,128v9" fill="none" stroke="#0000ff" stroke-width="1" shape-rendering="crispEdges"/>
<path d="M51.5,37.5H555.5M51.5,37.5V227.5M51.5,227.5H555.5M76.5,227.5v-2M110.5,227.5v-2M143.5,227.5v-4M177.5,227.5v-2M210.5,227.5v-2M244.5,227.5v-4M277.5,227.5v-2M311.5,227.5v-2M344.5,227.5v-4M378.5,227.5v-2M411.5,227.5v-2M445.5,227.5v-4M478.5,227.5v-2M512.5,227.5v-2M545.5,227.5v-4M51.5,266.5H555.5M51.5,266.5V494.5M51.5,494.5H555.5M555.5,266.5V494.5M76.5,494.5v-2M76.5,266.5v2M110.5,494.5v-2M110.5,266.5v2M143.5,494.5v-4M143.5,266.5v4M177.5,494.5v-2M177.5,266.5v2M210.5,494.5v-2M210.5,266.5v2M244.5,494.5v-4M244.5,266.5v4M277.5,494.5v-2M277.5,266.5v2M311.5,494.5v-2M311.5,266.5v2M344.5,494.5v-4M344.5,266.5v4M378.5,494.5v-2M378.5,266.5v2M411.5,494.5v-2M411.5,266.5v2M445.5,494.5v-4M445.5,266.5v4M478.5,494.5v-2M478.5,266.5v2M512.5,494.5v-2M512.5,266.5v2M545.5,494.5v-4M545.5,266.5v4M51.5,532.5H555.5M51.5,532.5V761.5M51.5,761.5H555.5M555.5,532.5V761.5M76.5,761.5v-2M76.5,532.5v2M110.5,761.5v-2M110.5,532.5v2M143.5,761.5v-4M143.5,532.5v4M177.5,761.5v-2M177.5,532.5v2M210.5,761.5v-2M210.5,532.5v2M244.5,761.5v-4M244.5,532.5v4M277.5,761.5v-2M277.5,532.5v2M311.5,761.5v-2M311.5,532.5v2M344.5,761.5v-4M344.5,532.5v4M378.5,761.5v-2M378.5,532.5v2M411.5,761.5v-2M411.5,532.5v2M445.5,761.5v-4M445.5,532.5v4M478.5,761.5v-2M478.5,532.5v2M512.5,761.5v-2M512.5,532.5v2M545.5,761.5v-4M545.5,532.5v4M60.5,37.5v2.5M84.5,37.5v5M109.5,37.5v2.5M133.5,37.5v2.5M157.5,37.5v5M182.5,37.5v2.5M206.5,37.5v2.5M230.5,37.5v5M255.5,37.5v2.5M279.5,37.5v2.5M303.5,37.5v5M328.5,37.5v2.5M352.5,37.5v2.5M376.5,37.5v5M401.5,37.5v2.5M425.5,37.5v2.5M449.5,37.5v5M474.5,37.5v2.5M498.5,37.5v2.5M522.5,37.5v5M547.5,37.5v2.5M51.5,227.5h10M51.5,222.5h5M51.5,218.5h5M51.5,213.5h5M51.5,208.5h5M51.5,203.5h5M51.5,199.5h5M51.5,194.5h5M51.5,189.5h5M51.5,184.5h5M51.5,180.5h10M51.5,175.5h5M51.5,170.5h5M51.5,165.5h5M51.5,161.5h5M51.5,156.5h5M51.5,151.5h5M51.5,146.5h5M51.5,142.5h5M51.5,137.5h5M51.5,132.5h10M51.5,127.5h5M51.5,123.5h5M51.5,118.5h5M51.5,113.5h5M51.5,108.5h5M51.5,104.5h5M51.5,99.5h5M51.5,94.5h5M51.5,89.5h5M51.5,85.5h10M51.5,80.5h5M51.5,75.5h5M51.5,70.5h5M51.5,66.5h5M51.5,61.5h5M51.5,56.5h5M51.5,51.5h5M51.5,47.5h5M51.5,42.5h5M51.5,37.5h10M51.0,494.5h10.5M556.0,494.5h-10.5M51.0,479.5h5.5M556.0,479.5h-5.5M51.0,470.5h5.5M556.0,470.5h-5.5M51.0,463.5h5.5M556.0,463.5h-5.5M51.0,458.5h5.5M556.0,458.5h-5.5M51.0,454.5h5.5M556.0,454.5h-5.5M51.0,451.5h5.5M556.0,451.5h-5.5M51.0,448.5h5.5M556.0,448.5h-5.5M51.0,445.5h5.5M556.0,445.5h-5.5M51.0,443.5h10.5M556.0,443.5h-10.5M51.0,428.5h5.5M556.0,428.5h-5.5M51.0,419.5h5.5M556.0,419.5h-5.5M51.0,412.5h5.5M556.0,412.5h-5.5M51.0,407.5h5.5M556.0,407.5h-5.5M51.0,403.5h5.5M556.0,403.5h-5.5M51.0,400.5h5.5M556.0,400.5h-5.5M51.0,397.5h5.5M556.0,397.5h-5.5M51.0,394.5h5.5M556.0,394.5h-5.5M51.0,392.5h10.5M556.0,392.5h-10.5M51.0,377.5h5.5M556.0,377.5h-5.5M51.0,368.5h5.5M556.0,368.5h-5.5M51.0,361.5h5.5M556.0,361.5h-5.5M51.0,356.5h5.5M556.0,356.5h-5.5M51.0,352.5h5.5M556.0,352.5h-5.5M51.0,349.5h5.5M556.0,349.5h-5.5M51.0,346.5h5.5M556.0,346.5h-5.5M51.0,343.5h5.5M556.0,343.5h-5.5M51.0,341.5h10.5M556.0,341.5h-10.5M51.0,326.5h5.5M556.0,326.5h-5.5M51.0,317.5h5.5M556.0,317.5h-5.5M51.0,310.5h5.5M556.0,310.5h-5.5M51.0,305.5h5.5M556.0,305.5h-5.5M51.0,301.5h5.5M556.0,301.5h-5.5M51.0,298.5h5.5M556.0,298.5h-5.5M51.0,295.5h5.5M556.0,295.5h-5.5M51.0,292.5h5.5M556.0,292.5h-5.5M51.0,290.5h10.5M556.0,290.5h-10.5M51.0,275.5h5.5M556.0,275.5h-5.5M51.0,761.5h10.5M556.0,761.5h-10.5M51.0,746.5h5.5M556.0,746.5h-5.5M51.0,737.5h5.5M556.0,737.5h-5.5M51.0,730.5h5.5M556.0,730.5h-5.5M51.0,725.5h5.5M556.0,725.5h-5.5M51.0,721.5h5.5M556.0,721.5h-5.5M51.0,718.5h5.5M556.0,718.5h-5.5M51.0,715.5h5.5M556.0,715.5h-5.5M51.0,712.5h5.5M556.0,712.5h-5.5M51.0,710.5h10.5M556.0,710.5h-10.5M51.0,695.5h5.5M556.0,695.5h-5.5M51.0,686.5h5.5M556.0,686.5h-5.5M51.0,679.5h5.5M556.0,679.5h-5.5M51.0,674.5h5.5M556.0,674.5h-5.5M51.0,670.5h5.5M556.0,670.5h-5.5M51.0,667.5h5.5M556.0,667.5h-5.5M51.0,664.5h5.5M556.0,664.5h-5.5M51.0,661.5h5.5M556.0,661.5h-5.5M51.0,659.5h10.5M556.0,659.5h-10.5M51.0,644.5h5.5M556.0,644.5h-5.5M51.0,635.5h5.5M556.0,635.5h-5.5M51.0,628.5h5.5M556.0,628.5h-5.5M51.0,623.5h5.5M556.0,623.5h-5.5M51.0,619.5h5.5M556.0,619.5h-5.5M51.0,616.5h5.5M556.0,616.5h-5.5M51.0,613.5h5.5M556.0,613.5h-5.5M51.0,610.5h5.5M556.0,610.5h-5.5M51.0,608.5h10.5M556.0,608.5h-10.5M51.0,593.5h5.5M556.0,593.5h-5.5M51.0,584.5h5.5M556.0,584.5h-5.5M51.0,577.5h5.5M556.0,577.5h-5.5M51.0,572.5h5.5M556.0,572.5h-5.5M51.0,568.5h5.5M556.0,568.5h-5.5M51.0,565.5h5.5M556.0,565.5h-5.5M51.0,562.5h5.5M556.0,562.5h-5.5M51.0,559.5h5.5M556.0,559.5h-5.5M51.0,557.5h10.5M556.0,557.5h-10.5M51.0,542.5h5.5M556.0,542.5h-5.5" fill="none" stroke="#000" stroke-width="1" shape-rendering="crispEdges"/>
<path d="M545,37.5H555.5M545,227.5H555.5M555.5,37V228M555.5,61.5H545M555.5,85.5H545M555.5,108.5H545M555.5,132.5H545M555.5,156.5H545M555.5,180.5H545M555.5,203.5H545" fill="none" stroke="#0000ff" stroke-width="1" shape-rendering="crispEdges"/>
<g><text x="266" y="24.3" font-size="11.5" text-anchor="start" fill="#000" textLength="18.7" lengthAdjust="spacingAndGlyphs" >NAR</text><text x="291.5" y="24.3" font-size="11.5" text-anchor="start" fill="#000" textLength="49.5" lengthAdjust="spacingAndGlyphs" >Longitude</text><text x="84.7" y="34" font-size="11" text-anchor="middle" fill="#000" textLength="21.4" lengthAdjust="spacingAndGlyphs" >−90</text><text x="157.7" y="34" font-size="11" text-anchor="middle" fill="#000" textLength="21.4" lengthAdjust="spacingAndGlyphs" >−60</text><text x="230.7" y="34" font-size="11" text-anchor="middle" fill="#000" textLength="21.4" lengthAdjust="spacingAndGlyphs" >−30</text><text x="303.7" y="34" font-size="11" text-anchor="middle" fill="#000" textLength="6" lengthAdjust="spacingAndGlyphs" >0</text><text x="376.7" y="34" font-size="11" text-anchor="middle" fill="#000" textLength="12.5" lengthAdjust="spacingAndGlyphs" >30</text><text x="449.7" y="34" font-size="11" text-anchor="middle" fill="#000" textLength="12.5" lengthAdjust="spacingAndGlyphs" >60</text><text x="522.7" y="34" font-size="11" text-anchor="middle" fill="#000" textLength="12.5" lengthAdjust="spacingAndGlyphs" >90</text><text x="465.8" y="21" font-size="14" text-anchor="start" fill="#000" textLength="25" lengthAdjust="spacingAndGlyphs" stroke="#fff" stroke-width="0.3">Lat:</text><text x="500.8" y="21" font-size="14" text-anchor="start" fill="#000" textLength="54.2" lengthAdjust="spacingAndGlyphs" stroke="#fff" stroke-width="0.3">−20.42</text><text x="103" y="57.2" font-size="18" text-anchor="start" fill="#000" textLength="36" lengthAdjust="spacingAndGlyphs" stroke="#fff" stroke-width="0.55">NAR</text><text x="153" y="57.2" font-size="18" text-anchor="start" fill="#000" textLength="60" lengthAdjust="spacingAndGlyphs" stroke="#fff" stroke-width="0.55">13336</text><text x="47.9" y="44.8" font-size="11" text-anchor="end" fill="#000" textLength="19" lengthAdjust="spacingAndGlyphs" >400</text><text x="47.9" y="89.6" font-size="11" text-anchor="end" fill="#000" textLength="19" lengthAdjust="spacingAndGlyphs" >300</text><text x="47.9" y="136.5" font-size="11" text-anchor="end" fill="#000" textLength="19" lengthAdjust="spacingAndGlyphs" >200</text><text x="47.9" y="184.9" font-size="11" text-anchor="end" fill="#000" textLength="19" lengthAdjust="spacingAndGlyphs" >100</text><text x="47.9" y="227.8" font-size="11" text-anchor="end" fill="#000" textLength="6" lengthAdjust="spacingAndGlyphs" >0</text><text x="0" y="0" font-size="11.5" text-anchor="start" fill="#000" textLength="19.1" lengthAdjust="spacingAndGlyphs" transform="translate(19.1,156.9) rotate(-90)">NAR</text><text x="0" y="0" font-size="11.5" text-anchor="start" fill="#000" textLength="22.3" lengthAdjust="spacingAndGlyphs" transform="translate(19.1,132.1) rotate(-90)">Area</text><text x="558.8" y="65.6" font-size="11" text-anchor="start" fill="#0000ff" textLength="19" lengthAdjust="spacingAndGlyphs" font-family="Liberation Serif, serif" font-style="italic" stroke="none">βγδ</text><text x="558.8" y="89.0" font-size="11" text-anchor="start" fill="#0000ff" textLength="13" lengthAdjust="spacingAndGlyphs" font-family="Liberation Serif, serif" font-style="italic" stroke="none">βδ</text><text x="558.8" y="112.39999999999999" font-size="11" text-anchor="start" fill="#0000ff" textLength="13" lengthAdjust="spacingAndGlyphs" font-family="Liberation Serif, serif" font-style="italic" stroke="none">βγ</text><text x="558.8" y="136.6" font-size="11" text-anchor="start" fill="#0000ff" textLength="6.5" lengthAdjust="spacingAndGlyphs" font-family="Liberation Serif, serif" font-style="italic" stroke="none">β</text><text x="558.8" y="160.29999999999998" font-size="11" text-anchor="start" fill="#0000ff" textLength="7" lengthAdjust="spacingAndGlyphs" font-family="Liberation Serif, serif" font-style="italic" stroke="none">α</text><text x="0" y="0" font-size="11.5" text-anchor="start" fill="#0000ff" textLength="22.8" lengthAdjust="spacingAndGlyphs" transform="translate(589,138.9) rotate(-90)">Mag.</text><text x="0" y="0" font-size="11.5" text-anchor="start" fill="#0000ff" textLength="27.1" lengthAdjust="spacingAndGlyphs" transform="translate(589,110) rotate(-90)">Class</text><text x="143.6" y="242.7" font-size="11" text-anchor="middle" fill="#000" textLength="34" lengthAdjust="spacingAndGlyphs" >06/15</text><text x="244.1" y="242.7" font-size="11" text-anchor="middle" fill="#000" textLength="34" lengthAdjust="spacingAndGlyphs" >06/18</text><text x="344.6" y="242.7" font-size="11" text-anchor="middle" fill="#000" textLength="34" lengthAdjust="spacingAndGlyphs" >06/21</text><text x="445.1" y="242.7" font-size="11" text-anchor="middle" fill="#000" textLength="34" lengthAdjust="spacingAndGlyphs" >06/24</text><text x="545.6" y="242.7" font-size="11" text-anchor="middle" fill="#000" textLength="34" lengthAdjust="spacingAndGlyphs" >06/27</text><text x="143.6" y="509.7" font-size="11" text-anchor="middle" fill="#000" textLength="34" lengthAdjust="spacingAndGlyphs" >06/15</text><text x="244.1" y="509.7" font-size="11" text-anchor="middle" fill="#000" textLength="34" lengthAdjust="spacingAndGlyphs" >06/18</text><text x="344.6" y="509.7" font-size="11" text-anchor="middle" fill="#000" textLength="34" lengthAdjust="spacingAndGlyphs" >06/21</text><text x="445.1" y="509.7" font-size="11" text-anchor="middle" fill="#000" textLength="34" lengthAdjust="spacingAndGlyphs" >06/24</text><text x="545.6" y="509.7" font-size="11" text-anchor="middle" fill="#000" textLength="34" lengthAdjust="spacingAndGlyphs" >06/27</text><text x="143.6" y="776.7" font-size="11" text-anchor="middle" fill="#000" textLength="34" lengthAdjust="spacingAndGlyphs" >06/15</text><text x="244.1" y="776.7" font-size="11" text-anchor="middle" fill="#000" textLength="34" lengthAdjust="spacingAndGlyphs" >06/18</text><text x="344.6" y="776.7" font-size="11" text-anchor="middle" fill="#000" textLength="34" lengthAdjust="spacingAndGlyphs" >06/21</text><text x="445.1" y="776.7" font-size="11" text-anchor="middle" fill="#000" textLength="34" lengthAdjust="spacingAndGlyphs" >06/24</text><text x="545.6" y="776.7" font-size="11" text-anchor="middle" fill="#000" textLength="34" lengthAdjust="spacingAndGlyphs" >06/27</text><text x="202.8" y="256.4" font-size="11.5" text-anchor="start" fill="#000" textLength="64.6" lengthAdjust="spacingAndGlyphs" >Start Time:</text><text x="275.3" y="256.4" font-size="11.5" text-anchor="start" fill="#000" textLength="81.6" lengthAdjust="spacingAndGlyphs" >(2023/06/12</text><text x="363.9" y="256.4" font-size="11.5" text-anchor="start" fill="#000" textLength="37.6" lengthAdjust="spacingAndGlyphs" >06:01)</text><text x="202.8" y="523.4" font-size="11.5" text-anchor="start" fill="#000" textLength="64.6" lengthAdjust="spacingAndGlyphs" >Start Time:</text><text x="275.3" y="523.4" font-size="11.5" text-anchor="start" fill="#000" textLength="81.6" lengthAdjust="spacingAndGlyphs" >(2023/06/12</text><text x="363.9" y="523.4" font-size="11.5" text-anchor="start" fill="#000" textLength="37.6" lengthAdjust="spacingAndGlyphs" >06:01)</text><text x="47.9" y="494.8" font-size="11" text-anchor="end" fill="#000" textLength="6" lengthAdjust="spacingAndGlyphs" >B</text><text x="47.9" y="447.1" font-size="11" text-anchor="end" fill="#000" textLength="6" lengthAdjust="spacingAndGlyphs" >C</text><text x="47.9" y="396.1" font-size="11" text-anchor="end" fill="#000" textLength="6.5" lengthAdjust="spacingAndGlyphs" >M</text><text x="47.9" y="345.1" font-size="11" text-anchor="end" fill="#000" textLength="6" lengthAdjust="spacingAndGlyphs" >X</text><text x="47.9" y="294.1" font-size="11" text-anchor="end" fill="#000" textLength="20" lengthAdjust="spacingAndGlyphs" >X10</text><text x="47.9" y="761.8" font-size="11" text-anchor="end" fill="#000" textLength="6" lengthAdjust="spacingAndGlyphs" >B</text><text x="47.9" y="714.1" font-size="11" text-anchor="end" fill="#000" textLength="6" lengthAdjust="spacingAndGlyphs" >C</text><text x="47.9" y="663.1" font-size="11" text-anchor="end" fill="#000" textLength="6.5" lengthAdjust="spacingAndGlyphs" >M</text><text x="47.9" y="612.1" font-size="11" text-anchor="end" fill="#000" textLength="6" lengthAdjust="spacingAndGlyphs" >X</text><text x="47.9" y="561.1" font-size="11" text-anchor="end" fill="#000" textLength="20" lengthAdjust="spacingAndGlyphs" >X10</text><text x="0" y="0" font-size="11.5" text-anchor="start" fill="#000" textLength="25.5" lengthAdjust="spacingAndGlyphs" transform="translate(19.6,428.2) rotate(-90)">Flare</text><text x="0" y="0" font-size="11.5" text-anchor="start" fill="#000" textLength="30.9" lengthAdjust="spacingAndGlyphs" transform="translate(19.6,397.2) rotate(-90)">X−ray</text><text x="0" y="0" font-size="11.5" text-anchor="start" fill="#000" textLength="27.5" lengthAdjust="spacingAndGlyphs" transform="translate(19.6,360.1) rotate(-90)">Class</text><text x="0" y="0" font-size="11.5" text-anchor="start" fill="#000" textLength="26.8" lengthAdjust="spacingAndGlyphs" transform="translate(19.6,694.5) rotate(-90)">GOES</text><text x="0" y="0" font-size="11.5" text-anchor="start" fill="#000" textLength="31.6" lengthAdjust="spacingAndGlyphs" transform="translate(19.6,662.9) rotate(-90)">X−ray</text><text x="0" y="0" font-size="11.5" text-anchor="start" fill="#000" textLength="26.8" lengthAdjust="spacingAndGlyphs" transform="translate(19.6,625.1) rotate(-90)">Class</text><text x="0" y="0" font-size="11.5" text-anchor="start" fill="#000" textLength="36.7" lengthAdjust="spacingAndGlyphs" transform="translate(576.3,448.5) rotate(-90)">Flares</text><text x="0" y="0" font-size="11.5" text-anchor="start" fill="#000" textLength="60.6" lengthAdjust="spacingAndGlyphs" transform="translate(576.3,406.8) rotate(-90)">observed</text><text x="0" y="0" font-size="11.5" text-anchor="start" fill="#000" textLength="10.9" lengthAdjust="spacingAndGlyphs" transform="translate(576.3,341.3) rotate(-90)">in</text><text x="0" y="0" font-size="11.5" text-anchor="start" fill="#000" textLength="14.9" lengthAdjust="spacingAndGlyphs" transform="translate(576.3,325.4) rotate(-90)">AR</text><text x="560.2" y="287.1" font-size="11" text-anchor="start" fill="#ff0000" textLength="26.8" lengthAdjust="spacingAndGlyphs" stroke="none">CMEs</text><text x="480.7" y="790.4" font-size="11.5" text-anchor="start" fill="#000" textLength="47.9" lengthAdjust="spacingAndGlyphs" >Prepared</text><text x="533.4" y="790.4" font-size="11.5" text-anchor="start" fill="#000" textLength="14.4" lengthAdjust="spacingAndGlyphs" >by</text><text x="553.5" y="790.4" font-size="11.5" text-anchor="start" fill="#000" textLength="29.7" lengthAdjust="spacingAndGlyphs" >HELIO</text></g>
</svg></body></html>
